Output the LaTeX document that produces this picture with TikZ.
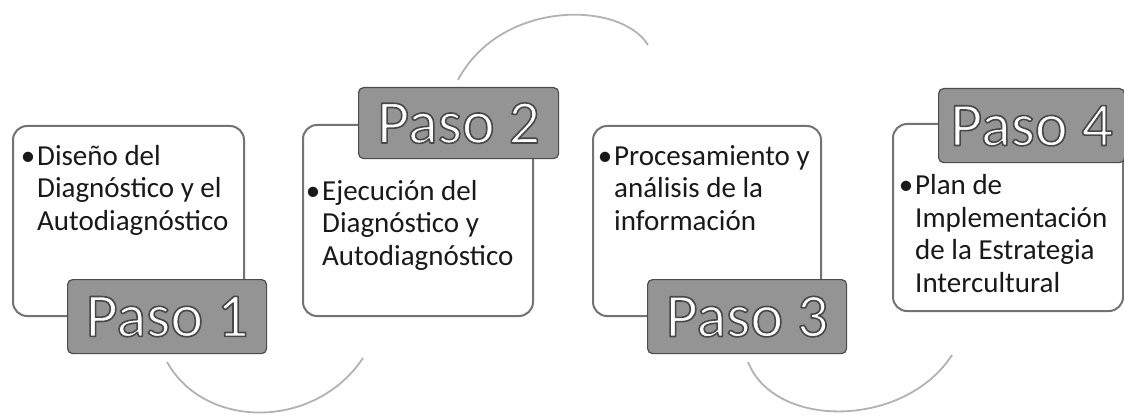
\documentclass[tikz,border=0pt]{standalone}
\usepackage{fontspec}
\setmainfont{Carlito}
\newcommand\outlinedtext[1]{\special{pdf:code q 2 Tr 1.6 w 1 j 1 1 1 rg 0.28 0.28 0.28 RG}#1\special{pdf:code Q}}
\begin{document}
\begin{tikzpicture}[x=1pt,y=-1pt,
  stepframe/.style={draw=black!55,line width=2pt,fill=white,rounded corners=14pt},
  steptag/.style={draw=black!70,line width=1.2pt,fill=black!42,rounded corners=5pt,inner sep=0pt,
    font=\fontsize{62}{62}\selectfont,text=white},
  steptext/.style={anchor=base west,align=left,inner sep=0pt,font=\fontsize{29}{32.5}\selectfont,text=black!90},
  flowarc/.style={draw=black!30,line width=1.8pt}
]
\clip (0,0) rectangle (1124,417);
\useasboundingbox (0,0) rectangle (1124,417);

% frames
\node[stepframe,minimum width=231pt,minimum height=190pt,anchor=north west] (B1) at (12,125) {};
\node[stepframe,minimum width=230pt,minimum height=191pt,anchor=north west] (B2) at (302,124) {};
\node[stepframe,minimum width=228pt,minimum height=190pt,anchor=north west] (B3) at (592,125) {};
\node[stepframe,minimum width=230pt,minimum height=187pt,anchor=north west] (B4) at (892,123) {};

% texts (anchor = baseline of last line)
\node[steptext] (T1) at (37,230) {\llap{\textbullet\hspace{2pt}}Diseño del\\Diagnóstico y el\\Autodiagnóstico};
\node[steptext] (T2) at (322,265) {\llap{\textbullet\hspace{2pt}}Ejecución del\\Diagnóstico y\\Autodiagnóstico};
\node[steptext] (T3) at (614,230) {\llap{\textbullet\hspace{2pt}}Procesamiento y\\análisis de la\\información};
\node[steptext] (T4) at (915,292) {\llap{\textbullet\hspace{2pt}}Plan de\\Implementación\\de la Estrategia\\Intercultural};

% tags
\node[steptag,minimum width=199pt,minimum height=74pt,anchor=north west] (L1) at (67,279) {\outlinedtext{Paso 1}};
\node[steptag,minimum width=200pt,minimum height=71pt,anchor=north west] (L2) at (358,87) {\outlinedtext{Paso 2}};
\node[steptag,minimum width=199pt,minimum height=74pt,anchor=north west] (L3) at (647,279) {\outlinedtext{Paso 3}};
\node[steptag,minimum width=186pt,minimum height=74pt,anchor=north west,text depth=0pt] (L4) at (938,88) {\outlinedtext{Paso 4}};

% arcs
\coordinate (a1s) at (167,362);
\coordinate (a1e) at (363,358);
\coordinate (a2s) at (458,80);
\coordinate (a2e) at (648,45);
\coordinate (a3s) at (748,362);
\coordinate (a3e) at (952,355);
\draw[flowarc] (a1s) .. controls (205,430) and (315,430) .. (a1e);
\draw[flowarc] (a2s) .. controls (500,0) and (620,0) .. (a2e);
\draw[flowarc] (a3s) .. controls (775,430) and (905,428) .. (a3e);
\end{tikzpicture}
\end{document}
